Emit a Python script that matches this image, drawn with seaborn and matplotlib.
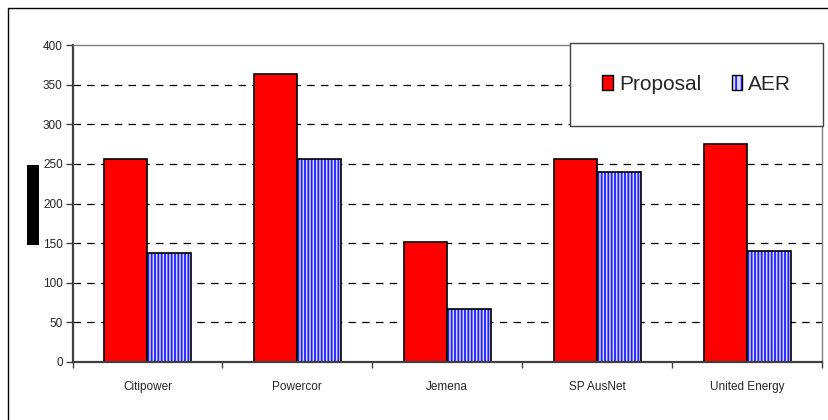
import matplotlib
matplotlib.use("Agg")
import matplotlib.pyplot as plt
import seaborn as sns
import pandas as pd
import numpy as np
from matplotlib.patches import Patch, Rectangle
from matplotlib.colors import to_rgba

categories = ["Citipower", "Powercor", "Jemena", "SP AusNet", "United Energy"]
proposal = [256, 364, 151, 256, 275]
aer = [137, 256, 67, 240, 140]
series_names = ["Proposal", "AER"]
yticks = [0, 50, 100, 150, 200, 250, 300, 350, 400]

df = pd.DataFrame({
    "category": categories * 2,
    "series": [series_names[0]] * len(categories) + [series_names[1]] * len(categories),
    "value": proposal + aer,
})

sns.set_style("white")
plt.rcParams["font.family"] = ["Liberation Sans Narrow", "Liberation Sans", "DejaVu Sans"]
plt.rcParams["hatch.linewidth"] = 1.3

fig = plt.figure(figsize=(8.29, 4.2), dpi=100)
ax = fig.add_axes([72.5 / 829, 1 - 362 / 420, (822 - 72.5) / 829, (362 - 45) / 420])

red = "#FF0000"
blue_face = "#D8D8FF"
stripe = "#2020FF"

sns.barplot(data=df, x="category", y="value", hue="series", order=categories,
            hue_order=series_names, palette=[red, blue_face], width=0.58, gap=0,
            edgecolor="black", linewidth=1.2, saturation=1, legend=False, ax=ax, zorder=3)

n = len(categories)
for i, p in enumerate(ax.patches):
    if i >= n:
        p.set_hatch("|||||")
        try:
            p.set_hatchcolor(stripe)
        except AttributeError:
            p._hatch_color = to_rgba(stripe)

ax.set_ylim(0, 400)
ax.set_xlim(-0.5, n - 0.5)
ax.set_yticks(yticks)
ax.set_yticklabels([str(t) for t in yticks], fontsize=8.5)
ax.set_xticks(range(n))
ax.set_xticklabels(categories, fontsize=8.5)
ax.set_xticks(np.arange(-0.5, n, 1.0), minor=True)
ax.tick_params(axis="x", which="major", length=0, pad=14)
ax.tick_params(axis="x", which="minor", length=4, width=1, color="#404040", direction="out", bottom=True)
ax.tick_params(axis="y", length=5, width=1, color="#404040", direction="out", left=True, pad=2)
ax.set_xlabel("")
ax.set_ylabel("")

for y in yticks[1:-1]:
    ax.axhline(y, color="black", linestyle=(0, (6, 5)), linewidth=0.9, zorder=1)

for s in ["left", "bottom"]:
    ax.spines[s].set_color("#404040")
    ax.spines[s].set_linewidth(1.6)
for s in ["top", "right"]:
    ax.spines[s].set_color("#808080")
    ax.spines[s].set_linewidth(1.0)
ax.spines["bottom"].set_zorder(5)

handles = [Patch(facecolor=red, edgecolor="black", linewidth=1.0, label=series_names[0]),
           Patch(facecolor=blue_face, edgecolor="black", linewidth=1.0, hatch="|||", label=series_names[1])]
try:
    handles[1].set_hatchcolor(stripe)
except AttributeError:
    handles[1]._hatch_color = to_rgba(stripe)

leg = ax.legend(handles=handles, loc="center", ncol=2,
                bbox_to_anchor=(0.664, 0.741, 0.338, 0.270), mode="expand",
                fontsize=15, frameon=True, fancybox=False, framealpha=1, borderpad=1.55,
                handlelength=0.5, handleheight=0.7, handletextpad=0.3,
                columnspacing=2.5, borderaxespad=0)
leg.get_frame().set_edgecolor("#404040")
leg.get_frame().set_linewidth(1.0)
leg.set_zorder(10)

# outer frame (only top and left visible)
fig.patches.append(Rectangle((8 / 829, -0.2), 1.2, 1.2 - 8 / 420, transform=fig.transFigure,
                             fill=False, edgecolor="black", linewidth=1.0, clip_on=False))
# black box left of the axis
fig.patches.append(Rectangle((27 / 829, 1 - 245 / 420), 12 / 829, 80 / 420, transform=fig.transFigure,
                             facecolor="black", edgecolor="none"))

fig.savefig("out.png", dpi=100)
